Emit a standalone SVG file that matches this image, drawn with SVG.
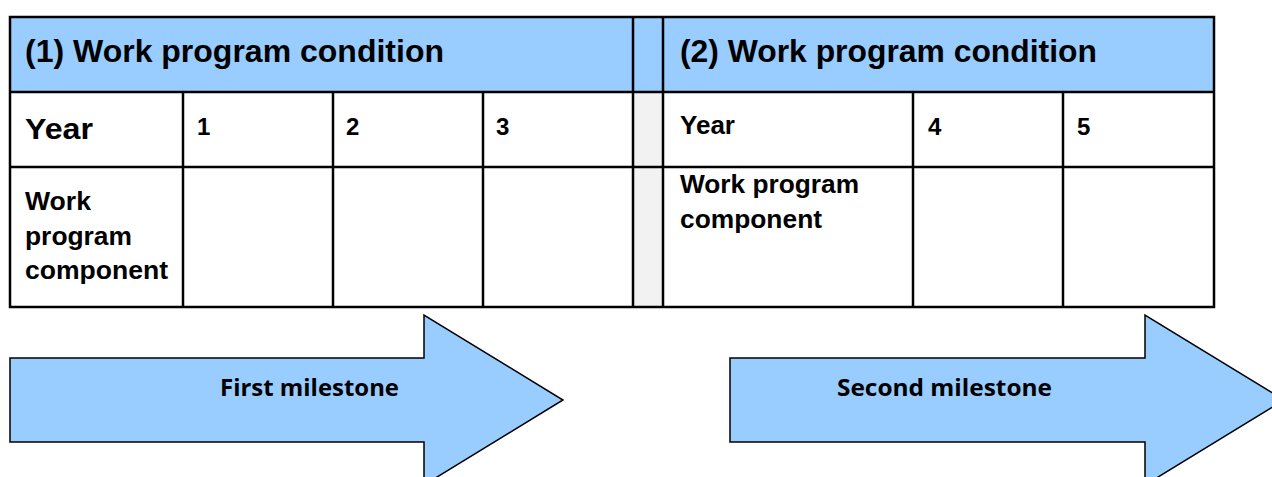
<svg xmlns="http://www.w3.org/2000/svg" width="1272" height="477" viewBox="0 0 1272 477">
<style>
.hdr{fill:#99ccff}
.gap{fill:#f2f2f2}
.ln{stroke:#000;stroke-width:2.5;fill:none}
.t{font-family:"Liberation Sans",Arial,sans-serif;font-weight:bold;fill:#000}
.arrow{fill:#99ccff;stroke:#000;stroke-width:1.5}
.at{font-family:"Open Sans","Noto Sans",sans-serif;font-weight:bold;fill:#000;font-size:24px}
</style>
<rect width="1272" height="477" fill="#fff"/>
<g id="table">
<rect class="hdr" x="10" y="17" width="1204" height="75"/>
<rect class="gap" x="633" y="92" width="30" height="215"/>
<g class="ln">
<rect x="10" y="17" width="1204" height="290"/>
<line x1="10" y1="92" x2="1214" y2="92"/>
<line x1="10" y1="167" x2="1214" y2="167"/>
<line x1="183" y1="92" x2="183" y2="307"/>
<line x1="333" y1="92" x2="333" y2="307"/>
<line x1="483" y1="92" x2="483" y2="307"/>
<line x1="633" y1="17" x2="633" y2="307"/>
<line x1="663" y1="17" x2="663" y2="307"/>
<line x1="913" y1="92" x2="913" y2="307"/>
<line x1="1063" y1="92" x2="1063" y2="307"/>
</g>
</g>
<g id="condition1">
<text class="t" x="25" y="62" font-size="31" textLength="419" lengthAdjust="spacingAndGlyphs">(1) Work program condition</text>
<text class="t" x="25" y="139" font-size="30" textLength="68" lengthAdjust="spacingAndGlyphs">Year</text>
<text class="t" x="197" y="135" font-size="24">1</text>
<text class="t" x="346" y="135" font-size="24">2</text>
<text class="t" x="496" y="135" font-size="24">3</text>
<text class="t" x="25" y="210" font-size="25" textLength="66" lengthAdjust="spacingAndGlyphs">Work</text>
<text class="t" x="25" y="245" font-size="25" textLength="107" lengthAdjust="spacingAndGlyphs">program</text>
<text class="t" x="25" y="279" font-size="25" textLength="143" lengthAdjust="spacingAndGlyphs">component</text>
</g>
<g id="condition2">
<text class="t" x="680" y="62" font-size="31" textLength="417" lengthAdjust="spacingAndGlyphs">(2) Work program condition</text>
<text class="t" x="680" y="134" font-size="25" textLength="55" lengthAdjust="spacingAndGlyphs">Year</text>
<text class="t" x="928" y="135" font-size="24">4</text>
<text class="t" x="1077" y="135" font-size="24">5</text>
<text class="t" x="680" y="193" font-size="25" textLength="179" lengthAdjust="spacingAndGlyphs">Work program</text>
<text class="t" x="680" y="228" font-size="25" textLength="142" lengthAdjust="spacingAndGlyphs">component</text>
</g>
<g id="milestone1">
<polygon class="arrow" points="10,358 424,358 424,315 563,400 424,485 424,442 10,442"/>
<text class="at" x="309.5" y="396" text-anchor="middle" textLength="179" lengthAdjust="spacingAndGlyphs">First milestone</text>
</g>
<g id="milestone2">
<polygon class="arrow" points="730,358 1145,358 1145,315 1284,400 1145,485 1145,442 730,442"/>
<text class="at" x="944.5" y="396" text-anchor="middle" textLength="215" lengthAdjust="spacingAndGlyphs">Second milestone</text>
</g>
<g id="connectors"></g>
</svg>
